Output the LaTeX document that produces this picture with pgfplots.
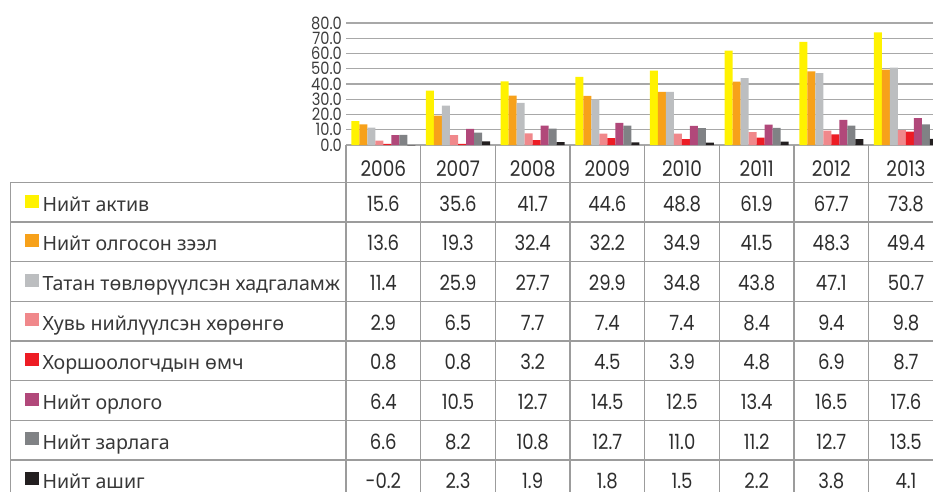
\documentclass[border=0pt]{standalone}
\usepackage{pgfplots}
\usepackage{pgfplotstable}
\pgfplotsset{compat=1.18}
\usepackage{fontspec}
\setmainfont{Noto Sans}
\newfontfamily\numfont{Poppins}[FakeStretch=0.86]
\definecolor{c1}{HTML}{FFF200}
\definecolor{c2}{HTML}{F7A11A}
\definecolor{c3}{HTML}{BCBEC0}
\definecolor{c4}{HTML}{F0888B}
\definecolor{c5}{HTML}{ED1C24}
\definecolor{c6}{HTML}{B1487A}
\definecolor{c7}{HTML}{808285}
\definecolor{c8}{HTML}{231F20}
\definecolor{gridc}{HTML}{A8A8A8}
\definecolor{linec}{HTML}{9C9C9C}
\definecolor{tabtext}{HTML}{2E2E2E}
\definecolor{legtext}{HTML}{383838}
\definecolor{tickc}{HTML}{3C3C3C}

\pgfplotstableread{
x year s1 s2 s3 s4 s5 s6 s7 s8
0.5 2006 15.6 13.6 11.4 2.9 0.8 6.4 6.6 -0.2
1.5 2007 35.6 19.3 25.9 6.5 0.8 10.5 8.2 2.3
2.5 2008 41.7 32.4 27.7 7.7 3.2 12.7 10.8 1.9
3.5 2009 44.6 32.2 29.9 7.4 4.5 14.5 12.7 1.8
4.5 2010 48.8 34.9 34.8 7.4 3.9 12.5 11.0 1.5
5.5 2011 61.9 41.5 43.8 8.4 4.8 13.4 11.2 2.2
6.5 2012 67.7 48.3 47.1 9.4 6.9 16.5 12.7 3.8
7.5 2013 73.8 49.4 50.7 9.8 8.7 17.6 13.5 4.1
}\datatable

\pgfplotsset{sqlegend/.style={legend image code/.code={%
  \fill[##1, draw=none] (0bp,3.7bp) rectangle (14bp,16.7bp);
  \path (0bp,0bp) (17.5bp,0bp);}}}

\begin{document}
\begin{tikzpicture}
\path[use as bounding box] (0,0) rectangle (933bp,-492bp);
\clip (0,0) rectangle (933bp,-492bp);
\begin{axis}[
  at={(346bp,-145bp)}, anchor=south west,
  scale only axis, width=597.33bp, height=122bp,
  xmin=0, xmax=8, ymin=0, ymax=80,
  ybar=0pt, bar width=8bp,
  axis line style={draw=none},
  xtick=\empty,
  ytick={0,10,...,80},
  major tick length=0pt,
  ymajorgrids, grid style={line width=1.2bp, color=gridc},
  yticklabel style={font=\numfont\fontsize{17bp}{18bp}\selectfont, text=tickc,
    inner sep=0pt, xshift=-4bp,
    /pgf/number format/fixed, /pgf/number format/zerofill,
    /pgf/number format/precision=1, /pgf/number format/assume math mode=true},
  legend style={at={(axis description cs:-0.53739,-0.40328)}, anchor=north west,
    draw=none, fill=none, inner sep=0pt, outer sep=0pt,
    row sep=18.64bp, column sep=0pt,
    font=\fontsize{19.6bp}{22bp}\selectfont, text=legtext,
    nodes={inner sep=0pt, outer sep=0pt, text height=17bp, text depth=4bp, anchor=base west}},
]
\addplot[fill=c1, draw=none, sqlegend] table[x=x, y=s1] {\datatable};
\addplot[fill=c2, draw=none, sqlegend] table[x=x, y=s2] {\datatable};
\addplot[fill=c3, draw=none, sqlegend] table[x=x, y=s3] {\datatable};
\addplot[fill=c4, draw=none, sqlegend] table[x=x, y=s4] {\datatable};
\addplot[fill=c5, draw=none, sqlegend] table[x=x, y=s5] {\datatable};
\addplot[fill=c6, draw=none, sqlegend] table[x=x, y=s6] {\datatable};
\addplot[fill=c7, draw=none, sqlegend] table[x=x, y=s7] {\datatable};
\addplot[fill=c8, draw=none, sqlegend] table[x=x, y=s8] {\datatable};
\legend{Нийт актив, Нийт олгосон зээл, Татан төвлөрүүлсэн хадгаламж, Хувь нийлүүлсэн хөрөнгө, Хоршоологчдын өмч, Нийт орлого, Нийт зарлага, Нийт ашиг}
\end{axis}
\begin{scope}[x=1bp, y=-1bp]
\foreach \yy in {182.4,222.1,261.8,301.4,341.1,380.7,420.4,460.0}
  \draw[linec, line width=1.3bp] (10.7,\yy) -- (933,\yy);
\draw[linec, line width=1.3bp] (10.7,182.4) -- (10.7,492);
\foreach \k in {0,...,7} {
  \pgfmathsetmacro\xx{346+74.667*\k}
  \draw[linec, line width=1.3bp] (\xx,145) -- (\xx,492);
}
\pgfkeys{/pgf/number format/.cd, fixed, zerofill, precision=1, assume math mode=true}
\foreach \r in {0,...,7} {
  \pgfmathsetmacro\cx{346+74.667*(\r+0.5)}
  \pgfplotstablegetelem{\r}{year}\of\datatable
  \node[anchor=base, inner sep=0pt, text=tabtext, font=\numfont\fontsize{21.5bp}{22bp}\selectfont] at (\cx,176.7) {\pgfplotsretval};
  \foreach \s in {1,...,8} {
    \pgfmathtruncatemacro\ci{\s+1}
    \pgfmathsetmacro\by{211.2+39.64*(\s-1)}
    \pgfplotstablegetelem{\r}{[index]\ci}\of\datatable
    \node[anchor=base, inner sep=0pt, text=tabtext, font=\numfont\fontsize{21bp}{22bp}\selectfont] at (\cx,\by) {\pgfmathprintnumber{\pgfplotsretval}};
  }
}
\end{scope}
\end{tikzpicture}
\end{document}
